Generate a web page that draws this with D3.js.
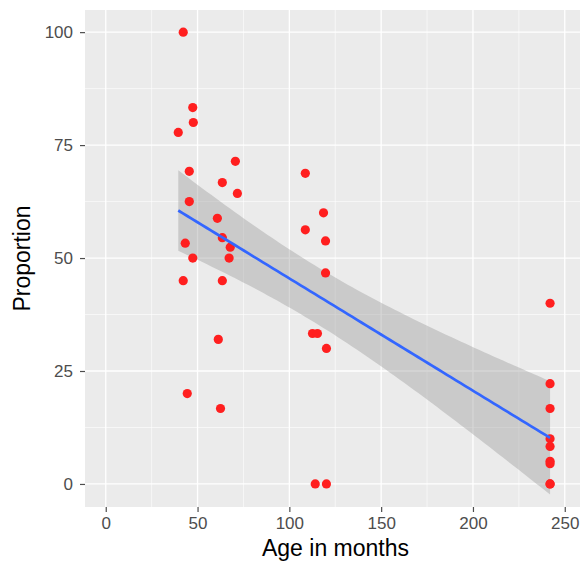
<!DOCTYPE html>
<html>
<head>
<meta charset="utf-8">
<script src="https://cdn.jsdelivr.net/npm/d3@7"></script>
<style>
  body { margin: 0; background: #fff; }
  text { font-family: "Liberation Sans", Arial, sans-serif; }
</style>
</head>
<body>
<div id="chart"></div>
<script>
// data
const ages = [42.2, 47.4, 47.7, 39.5, 45.5, 70.6, 63.5, 71.7, 108.7, 45.5,
  60.8, 118.6, 108.7, 63.5, 119.7, 43.3, 67.8, 47.4, 67.2, 119.7,
  42.2, 63.5, 61.3, 112.6, 115.3, 120.2, 44.4, 62.5, 114.1, 120.2,
  242, 242, 242, 242, 242, 242, 242, 242, 242]
const proportions = [100, 83.3, 80, 77.8, 69.2, 71.4, 66.7, 64.3, 68.75, 62.5,
  58.8, 60, 56.25, 54.5, 53.8, 53.3, 52.4, 50, 50, 46.7,
  45, 45, 32, 33.3, 33.3, 30, 20, 16.7, 0, 0,
  40, 22.2, 16.7, 10, 8.3, 5, 4.5, 0, 0]
const xTicks = [0, 50, 100, 150, 200, 250]
const yTicks = [0, 25, 50, 75, 100]
const xMinor = [25, 75, 125, 175, 225]
const yMinor = [12.5, 37.5, 62.5, 87.5]

const width = 587
const height = 566
const panel = { left: 85, top: 10, right: 580, bottom: 507 }

const x = d3.scaleLinear().domain([-11.3, 258.3]).range([panel.left, panel.right])
const y = d3.scaleLinear().domain([-5.1, 104.9]).range([panel.bottom, panel.top])

const points = ages.map((a, i) => ({ x: a, y: proportions[i] }))

// linear fit with 95% confidence band
const n = points.length
const mx = d3.mean(points, d => d.x)
const my = d3.mean(points, d => d.y)
const sxx = d3.sum(points, d => (d.x - mx) ** 2)
const sxy = d3.sum(points, d => (d.x - mx) * (d.y - my))
const slope = sxy / sxx
const icpt = my - slope * mx
const sse = d3.sum(points, d => (d.y - icpt - slope * d.x) ** 2)
const s = Math.sqrt(sse / (n - 2))
const tcrit = 2.026 // t(0.975, 37)
const [x0, x1] = d3.extent(ages)
const fit = d3.range(80).map(i => {
  const xv = x0 + (x1 - x0) * i / 79
  const yv = icpt + slope * xv
  const se = s * Math.sqrt(1 / n + (xv - mx) ** 2 / sxx)
  return { x: xv, y: yv, lo: yv - tcrit * se, hi: yv + tcrit * se }
})

const svg = d3.select("#chart").append("svg")
  .attr("width", width)
  .attr("height", height)

svg.append("rect")
  .attr("x", panel.left).attr("y", panel.top)
  .attr("width", panel.right - panel.left)
  .attr("height", panel.bottom - panel.top)
  .attr("fill", "#ebebeb")

// grid lines
svg.selectAll(".xminor").data(xMinor).enter().append("line")
  .attr("x1", d => x(d)).attr("x2", d => x(d))
  .attr("y1", panel.top).attr("y2", panel.bottom)
  .attr("stroke", "#fff").attr("stroke-width", 0.6)
svg.selectAll(".yminor").data(yMinor).enter().append("line")
  .attr("y1", d => y(d)).attr("y2", d => y(d))
  .attr("x1", panel.left).attr("x2", panel.right)
  .attr("stroke", "#fff").attr("stroke-width", 0.6)
svg.selectAll(".xmajor").data(xTicks).enter().append("line")
  .attr("x1", d => x(d)).attr("x2", d => x(d))
  .attr("y1", panel.top).attr("y2", panel.bottom)
  .attr("stroke", "#fff").attr("stroke-width", 1.3)
svg.selectAll(".ymajor").data(yTicks).enter().append("line")
  .attr("y1", d => y(d)).attr("y2", d => y(d))
  .attr("x1", panel.left).attr("x2", panel.right)
  .attr("stroke", "#fff").attr("stroke-width", 1.3)

// confidence band
svg.append("path")
  .datum(fit)
  .attr("d", d3.area().x(d => x(d.x)).y0(d => y(d.lo)).y1(d => y(d.hi)))
  .attr("fill", "#999999")
  .attr("fill-opacity", 0.4)

// points
svg.selectAll("circle").data(points).enter().append("circle")
  .attr("cx", d => x(d.x))
  .attr("cy", d => y(d.y))
  .attr("r", 4.6)
  .attr("fill", "#ff1f1f")

// fit line
svg.append("path")
  .datum(fit)
  .attr("d", d3.line().x(d => x(d.x)).y(d => y(d.y)))
  .attr("fill", "none")
  .attr("stroke", "#3366ff")
  .attr("stroke-width", 2.7)

// axes
const xAxis = svg.append("g")
  .attr("transform", `translate(0,${panel.bottom})`)
  .call(d3.axisBottom(x).tickValues(xTicks).tickSize(5).tickPadding(5))
const yAxis = svg.append("g")
  .attr("transform", `translate(${panel.left},0)`)
  .call(d3.axisLeft(y).tickValues(yTicks).tickSize(5).tickPadding(7))
;[xAxis, yAxis].forEach(g => {
  g.select(".domain").remove()
  g.selectAll(".tick line").attr("stroke", "#4d4d4d").attr("stroke-width", 1.2)
  g.selectAll(".tick text").attr("fill", "#4d4d4d").style("font-size", "17px")
})

svg.append("text")
  .attr("x", (panel.left + panel.right) / 2 + 3)
  .attr("y", 556)
  .attr("text-anchor", "middle")
  .style("font-size", "23px")
  .text("Age in months")

svg.append("text")
  .attr("transform", `translate(30,${(panel.top + panel.bottom) / 2}) rotate(-90)`)
  .attr("text-anchor", "middle")
  .style("font-size", "23px")
  .text("Proportion")
</script>
</body>
</html>
